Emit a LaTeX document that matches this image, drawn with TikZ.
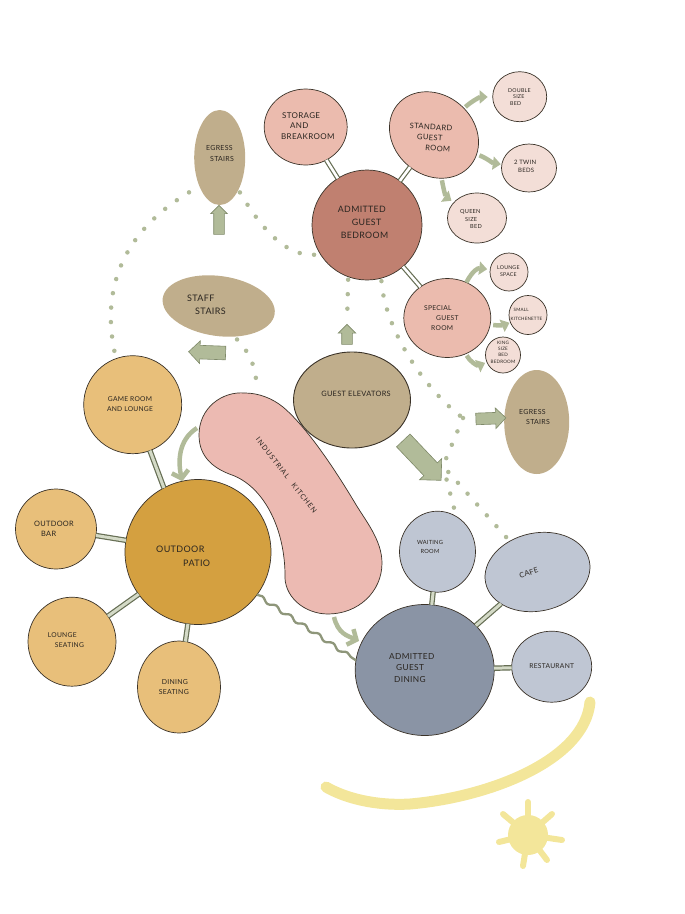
\documentclass[tikz,border=0pt]{standalone}
\usepackage{fontspec}
\setmainfont[LetterSpace=4]{Lato}
\usetikzlibrary{shapes.geometric,shapes.arrows,arrows.meta,decorations.pathmorphing}
\newcommand\fsz[2]{\fontsize{#1}{#2}\selectfont}
\definecolor{edgeD}{HTML}{3A3228}
\definecolor{patioC}{HTML}{D4A040}
\definecolor{patioL}{HTML}{E8BF7A}
\definecolor{taupe}{HTML}{C0AE8C}
\definecolor{roseD}{HTML}{C08070}
\definecolor{rose}{HTML}{EBBBAE}
\definecolor{roseP}{HTML}{F3DED7}
\definecolor{blueD}{HTML}{8A94A5}
\definecolor{blueL}{HTML}{BFC6D3}
\definecolor{kitch}{HTML}{ECBAB2}
\definecolor{sage}{HTML}{B1BB99}
\definecolor{sageD}{HTML}{7F8A69}
\definecolor{sun}{HTML}{F3E69A}
\definecolor{inkC}{HTML}{2A2520}
\tikzset{
  sz/.style 2 args={minimum width=#1pt,minimum height=#2pt},
  bub/.style={ellipse,draw=edgeD,line width=.7pt,inner sep=0pt,outer sep=0pt},
  plain/.style={ellipse,inner sep=0pt,outer sep=0pt,fill=taupe},
  lab/.style={anchor=west,align=left,inner sep=0pt,text=inkC},
  labc/.style={anchor=center,align=center,inner sep=0pt,text=inkC},
  connA/.style={draw=sageD!80!black,line width=1.2pt,double=white,double distance=2.6pt},
  connB/.style={draw=sageD!80!black,line width=1.2pt,double=sage!55!white,double distance=3pt},
  dots/.style={draw=sage,line width=4.5pt,line cap=round,dash pattern=on 0pt off 14.5pt},
  barrow/.style={single arrow,draw=sageD,fill=sage,line width=.6pt,inner xsep=0pt,outer sep=0pt},
  carrow/.style={draw=sage,line width=4.5pt,-{Triangle[length=8pt,width=13pt]}},
  oarrow/.style={draw=sage,line width=4.5pt,-{Straight Barb[length=7pt,width=17pt,line width=4.5pt]}},
  sunray/.style={draw=sun,line width=6pt,line cap=round},
}
\begin{document}
\begin{tikzpicture}[x=1pt,y=-1pt]
\useasboundingbox (0,0) rectangle (685,914);
% bubbles
\node[bub,fill=roseD,sz={110}{110}] (admitted) at (367,225) {};
\node[bub,fill=rose,sz={83}{76}] (storage) at (305.7,127) {};
\node[bub,fill=rose,sz={95}{80},rotate=-40] (standard) at (434,135) {};
\node[bub,fill=roseP,sz={54}{50}] (double) at (519.7,96.7) {};
\node[bub,fill=roseP,sz={55}{48}] (twin) at (529,168) {};
\node[bub,fill=roseP,sz={59}{50}] (queen) at (477,218) {};
\node[bub,fill=rose,sz={87}{79}] (special) at (447.3,318) {};
\node[bub,fill=roseP,sz={38}{38}] (lounge) at (509,272) {};
\node[bub,fill=roseP,sz={38}{39}] (kitchenette) at (528,315) {};
\node[bub,fill=roseP,sz={35}{36}] (king) at (503,355) {};
\node[plain,sz={51}{95}] (egressT) at (219.7,157.5) {};
\node[plain,sz={113}{60},rotate=-8] (staff) at (218.7,306) {};
\node[bub,fill=taupe,line width=.9pt,sz={117}{96}] (elev) at (352,400) {};
\node[plain,sz={65}{104}] (egressR) at (536.7,422) {};
\node[bub,fill=blueL,sz={76}{81}] (waiting) at (437.5,551.7) {};
\node[bub,fill=blueL,sz={106}{78},rotate=12] (cafe) at (537.5,572) {};
\node[bub,fill=blueL,sz={80}{71}] (restaurant) at (551.7,666.7) {};
\node[bub,fill=blueD,sz={139}{131}] (dining) at (424.7,670) {};
\node[bub,fill=patioC,sz={146}{145}] (patio) at (198,552) {};
\node[bub,fill=patioL,sz={98}{98}] (game) at (132.7,404.7) {};
\node[bub,fill=patioL,sz={81}{80}] (bar) at (56,529) {};
\node[bub,fill=patioL,sz={88}{89}] (seatL) at (72,641.7) {};
\node[bub,fill=patioL,sz={83}{92}] (seatD) at (179,687) {};
% kitchen blob
\path[fill=kitch,draw=edgeD,line width=.7pt]
  (245,393) .. controls (222,391) and (199,408) .. (199,435)
  .. controls (199,458) and (215,469) .. (232,475)
  .. controls (262,486) and (284,525) .. (285,573)
  .. controls (283,597) and (305,614) .. (328,614)
  .. controls (358,614) and (382,592) .. (382,563)
  .. controls (382,540) and (365,520) .. (355,503)
  .. controls (340,478) and (310,430) .. (283,407)
  .. controls (272,398) and (258,393) .. (245,393) -- cycle;
\coordinate (kitchenN) at (257,392);
\coordinate (kitchenW) at (197,428);
\coordinate (kitchenS) at (334,617);
\coordinate (dotA) at (463,418);
\coordinate (dotB) at (443,466);
% spokes
\draw[connA] (storage) -- (admitted);
\draw[connA] (standard) -- (admitted);
\draw[connA] (special) -- (admitted);
\draw[connB] (game) -- (patio.118);
\draw[connB] (bar) -- (patio);
\draw[connB] (seatL) -- (patio);
\draw[connB] (seatD) -- (patio);
\draw[connB] (waiting) -- (dining);
\draw[connB] (cafe) -- (dining);
\draw[connB] (restaurant) -- (dining);
% wavy link
\draw[draw=sage!80!black,line width=2.3pt,decorate,decoration={snake,amplitude=1.8pt,segment length=17pt}]
  (patio.-36) -- (dining.172);
% straight block arrows
\node[barrow,inner ysep=5pt,minimum height=29pt,minimum width=16pt,single arrow head extend=3pt,rotate=90] (arrUp) at (219,222.5) {};
\node[barrow,inner ysep=6.5pt,minimum height=37pt,minimum width=22pt,single arrow head extend=4.5pt,rotate=178] (arrStaff) at (210.5,352.5) {};
\node[barrow,inner ysep=5pt,minimum height=20pt,minimum width=17pt,single arrow head extend=3.5pt,rotate=90] (arrGuest) at (347,337) {};
\node[barrow,inner ysep=5.5pt,minimum height=30pt,minimum width=20pt,single arrow head extend=4.5pt,rotate=2] (arrEgress) at (488,418.5) {};
\node[barrow,inner ysep=9pt,minimum height=55pt,minimum width=30pt,single arrow head extend=6pt,rotate=-46.5] (arrBig) at (419,457) {};
% curved arrows
\draw[carrow,shorten <=2pt,shorten >=5pt] (standard) .. controls (472,101) and (480,97) .. (double);
\draw[carrow,shorten <=3pt,shorten >=1pt] (standard) .. controls (490,160) and (492,163) .. (twin);
\draw[carrow,shorten <=2pt,shorten >=3pt] (standard) .. controls (444,192) and (446,197) .. (queen);
\draw[carrow,shorten >=3pt] (special) .. controls (473,270) and (478,268) .. (lounge);
\draw[carrow,shorten <=3pt,shorten >=1pt] (special) .. controls (500,326) and (504,325) .. (kitchenette);
\draw[carrow,shorten <=2pt,shorten >=2pt] (special) .. controls (470,362) and (478,366) .. (king);
\draw[oarrow] (kitchenW) .. controls (178,440) and (178,462) .. (patio);
\draw[oarrow,shorten >=3pt] (kitchenS) .. controls (338,634) and (348,636) .. (dining);
% dotted circulation
\draw[dots,shorten <=8pt,shorten >=4pt] (game.110) .. controls (100,280) and (130,225) .. (egressT.-125);
\draw[dots,shorten <=3pt,shorten >=3pt] (egressT.-60) .. controls (265,235) and (290,258) .. (admitted.212);
\draw[dots,shorten <=3pt,shorten >=7pt] (admitted.250) -- (arrGuest.tip);
\draw[dots,shorten <=3pt] (admitted.-75) .. controls (385,330) and (425,390) .. (dotA);
\draw[dots] (dotA) -- (dotB);
\draw[dots,shorten <=8pt,shorten >=2pt] (dotB) -- (cafe.120);
\draw[dots,shorten <=14pt,shorten >=1pt] (dotB) -- (waiting.62);
\draw[dots,shorten <=4pt,shorten >=3pt] (staff.-55) .. controls (252,355) and (256,370) .. (kitchenN);
% sun path and sun
\path[draw=sun,line width=11pt,line cap=round]
  (590,702) .. controls (585,760) and (490,797) .. (410,804)
  .. controls (375,806) and (345,798) .. (326,787);
\node[circle,fill=sun,inner sep=0pt,minimum size=40pt] (sunC) at (528,835) {};
\coordinate (r1) at (528,802);
\coordinate (r2) at (552,814);
\coordinate (r3) at (562,840);
\coordinate (r4) at (547,860);
\coordinate (r5) at (523,866);
\coordinate (r6) at (499,842);
\coordinate (r7) at (503,814);
\foreach \r in {r1,r2,r3,r4,r5,r6,r7} \draw[sunray] (sunC.center) -- (\r);
% labels
\node[lab,font=\fsz{8}{10.5}] (tStorage) at (281,126) {\hspace*{1pt}STORAGE\\\hspace*{9pt}AND\\BREAKROOM};
\node[lab,font=\fsz{8.8}{13}] (tAdm) at (337.7,222) {ADMITTED\\\hspace*{14pt}GUEST\\\hspace*{3pt}BEDROOM};
\node[lab,font=\fsz{7.6}{10.5},rotate=-4] (tStd) at (409,136) {STANDARD\\\hspace*{8pt}GUEST\\\hspace*{17pt}ROOM};
\node[lab,font=\fsz{5.3}{6.5}] (tDbl) at (508,97) {DOUBLE\\\hspace*{5pt}SIZE\\\hspace*{2pt}BED};
\node[lab,font=\fsz{6}{8}] (tTwin) at (514,166) {2 TWIN\\\hspace*{4pt}BEDS};
\node[lab,font=\fsz{5.6}{7.5}] (tQueen) at (460,219) {QUEEN\\\hspace*{5pt}SIZE\\\hspace*{10pt}BED};
\node[lab,font=\fsz{6.7}{10}] (tSpec) at (424,318) {SPECIAL\\\hspace*{12pt}GUEST\\\hspace*{7pt}ROOM};
\node[lab,font=\fsz{5.2}{7.5}] (tLounge) at (497,271) {LOUNGE\\\hspace*{3pt}SPACE};
\node[lab,font=\fsz{4.5}{9}] (tKit) at (510.5,314) {\hspace*{3pt}SMALL\\KITCHENETTE};
\node[labc,font=\fsz{4.6}{6.3}] (tKing) at (503,352) {KING\\SIZE\\BED\\BEDROOM};
\node[lab,font=\fsz{7}{11}] (tEgT) at (206,153) {EGRESS\\\hspace*{4pt}STAIRS};
\node[lab,font=\fsz{9}{13}] (tStaff) at (187,305) {STAFF\\\hspace*{8pt}STAIRS};
\node[labc,font=\fsz{7.4}{9}] (tElev) at (356,394) {GUEST ELEVATORS};
\node[lab,font=\fsz{7}{10}] (tEgR) at (519,417) {EGRESS\\\hspace*{7pt}STAIRS};
\node[labc,font=\fsz{6.7}{9.5}] (tGame) at (130,404) {GAME ROOM\\AND LOUNGE};
\node[lab,font=\fsz{7.4}{10}] (tBar) at (34,529) {OUTDOOR\\\hspace*{7pt}BAR};
\node[lab,font=\fsz{9}{14}] (tPatio) at (156,556) {OUTDOOR\\\hspace*{27pt}PATIO};
\node[lab,font=\fsz{6.7}{9.5}] (tSeatL) at (47.7,640) {LOUNGE\\\hspace*{7pt}SEATING};
\node[lab,font=\fsz{6.9}{9.5}] (tSeatD) at (158.7,687) {\hspace*{3pt}DINING\\SEATING};
\node[labc,font=\fsz{7}{9}\addfontfeatures{LetterSpace=15},rotate=-52] (tKitchen) at (286.5,475.5) {INDUSTRIAL\hspace{8pt}KITCHEN};
\node[labc,font=\fsz{5.7}{8.5}] (tWait) at (430,547) {WAITING\\ROOM};
\node[labc,font=\fsz{7.4}{9},rotate=18] (tCafe) at (528.7,573) {CAFE};
\node[labc,font=\fsz{6.7}{9}] (tRest) at (551.7,665.7) {RESTAURANT};
\node[lab,font=\fsz{8.3}{11.7}] (tDin) at (389,668) {ADMITTED\\\hspace*{7pt}GUEST\\\hspace*{5pt}DINING};
\end{tikzpicture}
\end{document}
